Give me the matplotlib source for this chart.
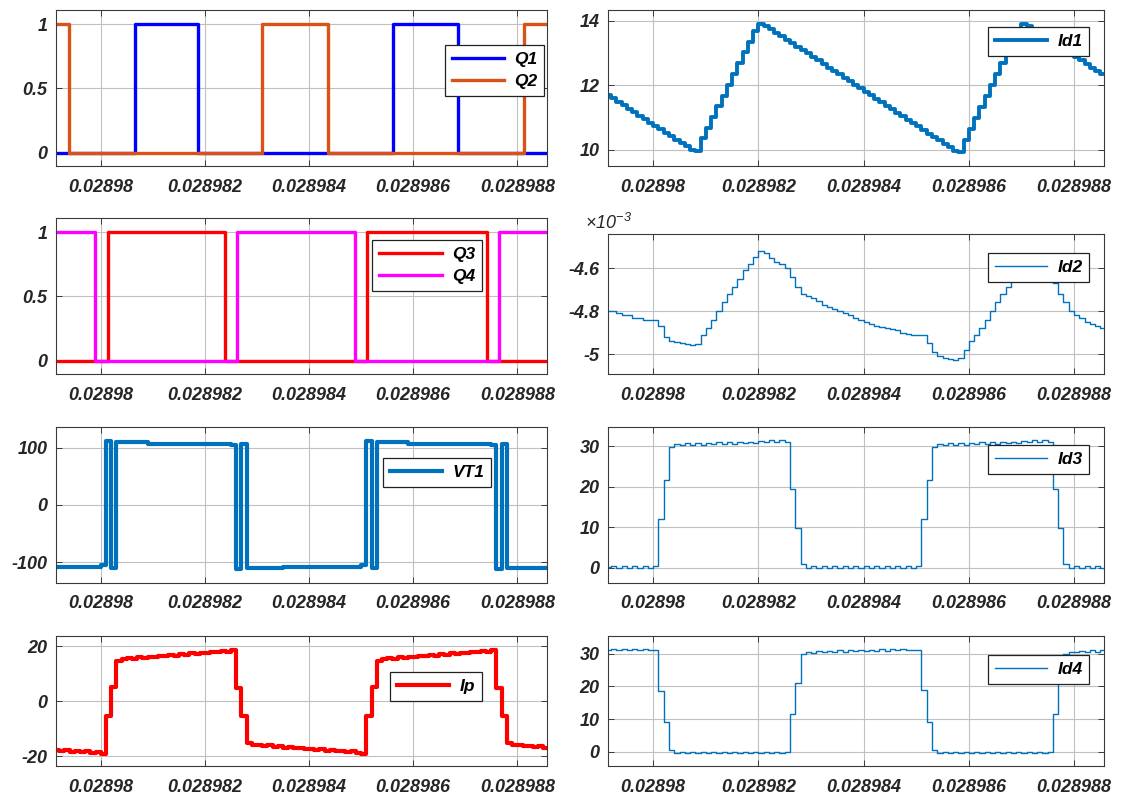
import numpy as np
import matplotlib.pyplot as plt

plt.rcParams['font.family'] = ['Liberation Sans', 'DejaVu Sans']
plt.rcParams['mathtext.fontset'] = 'custom'
plt.rcParams['mathtext.rm'] = 'Liberation Sans:italic'
plt.rcParams['mathtext.it'] = 'Liberation Sans:italic'

# simulation sample grid: 0.1 us step starting at 0.0289791 s
t_start = 0.0289791
dt = 1e-7

# gate signals: switching instants (s) and levels (steps-post)
q1_t = [0.0289791, 0.02898065, 0.02898186, 0.02898562, 0.02898687, 0.0289886]
q1_v = [0, 1, 0, 1, 0, 0]
q2_t = [0.0289791, 0.02897939, 0.0289831, 0.02898436, 0.02898812, 0.0289886]
q2_v = [1, 0, 1, 0, 1, 1]
q3_t = [0.0289791, 0.02898013, 0.02898238, 0.02898512, 0.02898741, 0.0289886]
q3_v = [0, 1, 0, 1, 0, 0]
q4_t = [0.0289791, 0.02897988, 0.02898262, 0.02898488, 0.02898764, 0.0289886]
q4_v = [1, 0, 1, 0, 1, 1]

vt1 = [-108, -108, -108, -108, -108, -108, -108, -108, -108, -105,
       112, -109, 109, 109, 109, 109, 109, 109, 107, 107,
       107, 107, 107, 107, 107, 107, 107, 107, 107, 107,
       107, 107, 107, 107, 105, -112, 107, -110, -110, -110,
       -110, -110, -110, -110, -108, -108, -108, -108, -108, -108,
       -108, -108, -108, -108, -108, -108, -108, -108, -108, -105,
       112, -109, 109, 109, 109, 109, 109, 109, 107, 107,
       107, 107, 107, 107, 107, 107, 107, 107, 107, 107,
       107, 107, 107, 107, 105, -112, 107, -110, -110, -110,
       -110, -110, -110, -110, -110, -108]

ip = [-17.6, -17.9, -17.7, -18.3, -18.0, -18.4, -18.2, -18.6, -18.4, -19.2,
      -5.5, 5.3, 14.5, 15.3, 15.6, 15.4, 15.9, 15.7, 16.2, 16.0,
      16.5, 16.3, 16.8, 16.6, 17.1, 16.9, 17.4, 17.2, 17.7, 17.6,
      18.0, 17.8, 18.2, 18.0, 18.6, 5.0, -5.5, -15.0, -16.0, -15.8,
      -16.2, -16.0, -16.5, -16.3, -16.8, -16.6, -17.1, -16.9, -17.4, -17.2,
      -17.6, -17.4, -17.9, -17.7, -18.1, -17.9, -18.3, -18.1, -18.6, -19.2,
      -5.5, 5.3, 14.5, 15.3, 15.6, 15.4, 15.9, 15.7, 16.2, 16.0,
      16.5, 16.3, 16.8, 16.6, 17.1, 16.9, 17.4, 17.2, 17.7, 17.6,
      18.0, 17.8, 18.2, 18.0, 18.6, 5.0, -5.5, -15.0, -16.0, -15.8,
      -16.3, -16.1, -16.6, -16.4, -16.9, -17.2]

id1 = [11.70, 11.59, 11.49, 11.38, 11.27, 11.17, 11.06, 10.95, 10.84, 10.74,
       10.63, 10.52, 10.42, 10.31, 10.20, 10.10, 9.99, 9.97, 10.35, 10.68,
       11.02, 11.35, 11.68, 12.02, 12.35, 12.68, 13.02, 13.35, 13.68, 13.90,
       13.85, 13.74, 13.63, 13.53, 13.42, 13.31, 13.20, 13.09, 12.99, 12.88,
       12.77, 12.66, 12.55, 12.45, 12.34, 12.23, 12.12, 12.01, 11.91, 11.80,
       11.69, 11.58, 11.47, 11.37, 11.26, 11.15, 11.04, 10.93, 10.83, 10.72,
       10.61, 10.50, 10.39, 10.29, 10.18, 10.07, 9.96, 9.92, 10.30, 10.64,
       10.98, 11.32, 11.66, 12.00, 12.34, 12.68, 13.02, 13.36, 13.70, 13.90,
       13.85, 13.74, 13.63, 13.53, 13.42, 13.31, 13.20, 13.09, 12.99, 12.88,
       12.77, 12.66, 12.55, 12.45, 12.34, 12.23]

# Id2 in units of 1e-3
id2 = [-4.80, -4.80, -4.81, -4.82, -4.82, -4.83, -4.83, -4.84, -4.84, -4.84,
       -4.87, -4.92, -4.94, -4.945, -4.95, -4.955, -4.96, -4.955, -4.91, -4.88,
       -4.84, -4.80, -4.76, -4.72, -4.69, -4.65, -4.61, -4.58, -4.55, -4.52,
       -4.53, -4.555, -4.57, -4.58, -4.60, -4.64, -4.69, -4.72, -4.73, -4.74,
       -4.755, -4.77, -4.78, -4.79, -4.80, -4.81, -4.82, -4.83, -4.84, -4.85,
       -4.86, -4.87, -4.875, -4.88, -4.885, -4.89, -4.90, -4.905, -4.91, -4.91,
       -4.91, -4.95, -4.99, -5.01, -5.02, -5.025, -5.03, -5.02, -4.98, -4.94,
       -4.91, -4.88, -4.84, -4.80, -4.76, -4.72, -4.69, -4.65, -4.61, -4.58,
       -4.56, -4.57, -4.59, -4.60, -4.62, -4.67, -4.72, -4.76, -4.80, -4.82,
       -4.83, -4.85, -4.86, -4.87, -4.88, -4.89]

id3 = [0.2, 0.3, -0.2, 0.3, -0.2, 0.3, -0.2, 0.3, -0.2, 0.5,
       12.0, 21.5, 29.8, 30.6, 30.2, 30.7, 30.3, 30.8, 30.3, 30.8,
       30.4, 30.9, 30.5, 30.9, 30.6, 31.0, 30.7, 31.0, 30.8, 31.3,
       30.9, 31.4, 30.9, 31.4, 31.0, 19.3, 9.7, 0.8, -0.2, 0.3,
       -0.2, 0.3, -0.2, 0.3, -0.2, 0.3, -0.2, 0.3, -0.2, 0.3,
       -0.2, 0.3, -0.2, 0.3, -0.2, 0.3, -0.2, 0.3, -0.2, 0.5,
       12.0, 21.5, 29.8, 30.6, 30.2, 30.7, 30.3, 30.8, 30.3, 30.8,
       30.4, 30.9, 30.5, 30.9, 30.6, 31.0, 30.7, 31.0, 30.8, 31.3,
       30.9, 31.4, 30.9, 31.4, 31.0, 19.3, 9.7, 0.8, -0.2, 0.3,
       -0.2, 0.3, -0.2, 0.3, -0.2, 0.0]

id4 = [31.0, 31.3, 31.0, 31.3, 31.0, 31.3, 31.1, 31.3, 31.2, 31.2,
       18.7, 9.2, 0.5, -0.3, 0.0, -0.3, 0.0, -0.3, 0.0, -0.3,
       0.0, -0.3, 0.0, -0.3, 0.0, -0.3, 0.0, -0.3, 0.0, -0.3,
       0.0, -0.3, 0.0, -0.3, 0.1, 11.5, 21.0, 29.8, 30.6, 30.3,
       30.8, 30.4, 30.8, 30.5, 31.0, 30.6, 31.0, 30.7, 31.2, 30.8,
       31.2, 30.9, 31.3, 30.9, 31.3, 31.0, 31.3, 31.0, 31.2, 31.1,
       19.0, 9.2, 0.5, -0.3, 0.0, -0.3, 0.0, -0.3, 0.0, -0.3,
       0.0, -0.3, 0.0, -0.3, 0.0, -0.3, 0.0, -0.3, 0.0, -0.3,
       0.0, -0.3, 0.0, -0.3, 0.1, 11.5, 21.0, 29.8, 30.6, 30.4,
       30.9, 30.5, 31.0, 30.6, 31.1, 31.2]

xticks = [0.02898, 0.028982, 0.028984, 0.028986, 0.028988]
xticklabels = ['0.02898', '0.028982', '0.028984', '0.028986', '0.028988']

t = t_start + dt * np.arange(len(id1))

BLUE = '#0072BD'
W, H = 1123, 797
fig = plt.figure(figsize=(W / 100, H / 100), dpi=100)


def make_ax(x0, y0, x1, y1):
    # pixel box -> figure fraction
    ax = fig.add_axes([x0 / W, 1 - y1 / H, (x1 - x0) / W, (y1 - y0) / H])
    ax.set_xlim(0.02897914, 0.02898857)
    ax.set_xticks(xticks)
    ax.set_xticklabels(xticklabels)
    ax.grid(True, color='#c0c0c0', lw=0.8)
    ax.set_axisbelow(True)
    ax.tick_params(direction='in', length=4, width=0.6, colors='#262626',
                   labelsize=13, top=True, right=True)
    ax.tick_params(axis='x', pad=9)
    ax.tick_params(axis='y', pad=6)
    for lab in ax.get_xticklabels() + ax.get_yticklabels():
        lab.set_fontweight('bold')
        lab.set_fontstyle('italic')
    for s in ax.spines.values():
        s.set_color('#3a3a3a')
        s.set_linewidth(0.8)
    return ax


def legend(ax, x, y, hl=3.0):
    leg = ax.legend(loc='upper left', bbox_to_anchor=(x, y), fancybox=False,
                    framealpha=1, edgecolor='#222222', handlelength=hl,
                    handletextpad=0.6, borderpad=0.4, labelspacing=0.4,
                    borderaxespad=0,
                    prop={'weight': 'bold', 'style': 'italic', 'size': 12.5})
    leg.get_frame().set_linewidth(0.9)
    return leg


LX0, LX1 = 56, 547
RX0, RX1 = 608, 1104

# Q1 / Q2
ax = make_ax(LX0, 10, LX1, 166)
ax.plot(q1_t, q1_v, drawstyle='steps-post', color='#0000FF', lw=2.4, label='Q1')
ax.plot(q2_t, q2_v, drawstyle='steps-post', color='#D95319', lw=2.4, label='Q2')
ax.set_ylim(-0.105, 1.11)
ax.set_yticks([0, 0.5, 1])
ax.set_yticklabels(['0', '0.5', '1'], fontweight='bold', fontstyle='italic')
legend(ax, 0.792, 0.776)

# Id1
ax = make_ax(RX0, 10, RX1, 166)
ax.plot(t, id1, drawstyle='steps-post', color=BLUE, lw=2.8, label='Id1')
ax.set_ylim(9.49, 14.34)
ax.set_yticks([10, 12, 14])
ax.set_yticklabels(['10', '12', '14'], fontweight='bold', fontstyle='italic')
legend(ax, 0.766, 0.891)

# Q3 / Q4
ax = make_ax(LX0, 218, LX1, 374)
ax.plot(q3_t, q3_v, drawstyle='steps-post', color='#FF0000', lw=2.4, label='Q3')
ax.plot(q4_t, q4_v, drawstyle='steps-post', color='#FF00FF', lw=2.4, label='Q4')
ax.set_ylim(-0.105, 1.11)
ax.set_yticks([0, 0.5, 1])
ax.set_yticklabels(['0', '0.5', '1'], fontweight='bold', fontstyle='italic')
legend(ax, 0.644, 0.859, hl=3.6)

# Id2
ax = make_ax(RX0, 234, RX1, 374)
ax.plot(t, np.array(id2) * 1e-3, drawstyle='steps-post', color=BLUE, lw=1.0, label='Id2')
ax.set_ylim(-5.093e-3, -4.441e-3)
ax.set_yticks([-5e-3, -4.8e-3, -4.6e-3])
ax.set_yticklabels(['-5', '-4.8', '-4.6'], fontweight='bold', fontstyle='italic')
ax.text(-0.046, 1.01, r'$\times10^{-3}$', transform=ax.transAxes, fontsize=13,
        color='#262626', va='bottom', ha='left')
legend(ax, 0.766, 0.864)

# VT1
ax = make_ax(LX0, 427, LX1, 583)
ax.plot(t, vt1, drawstyle='steps-post', color=BLUE, lw=3.0, label='VT1')
ax.set_ylim(-136, 136)
ax.set_yticks([-100, 0, 100])
ax.set_yticklabels(['-100', '0', '100'], fontweight='bold', fontstyle='italic')
legend(ax, 0.666, 0.8)

# Id3
ax = make_ax(RX0, 427, RX1, 583)
ax.plot(t, id3, drawstyle='steps-post', color=BLUE, lw=1.0, label='Id3')
ax.set_ylim(-3.8, 34.7)
ax.set_yticks([0, 10, 20, 30])
ax.set_yticklabels(['0', '10', '20', '30'], fontweight='bold', fontstyle='italic')
legend(ax, 0.766, 0.885)

# Ip
ax = make_ax(LX0, 636, LX1, 766)
ax.plot(t, ip, drawstyle='steps-post', color='#FF0000', lw=3.0, label='Ip')
ax.set_ylim(-23.5, 23.7)
ax.set_yticks([-20, 0, 20])
ax.set_yticklabels(['-20', '0', '20'], fontweight='bold', fontstyle='italic')
legend(ax, 0.68, 0.72)

# Id4
ax = make_ax(RX0, 636, RX1, 766)
ax.plot(t, id4, drawstyle='steps-post', color=BLUE, lw=1.0, label='Id4')
ax.set_ylim(-4.3, 35.4)
ax.set_yticks([0, 10, 20, 30])
ax.set_yticklabels(['0', '10', '20', '30'], fontweight='bold', fontstyle='italic')
legend(ax, 0.766, 0.854)

fig.savefig('out.png', dpi=100, facecolor='white')
